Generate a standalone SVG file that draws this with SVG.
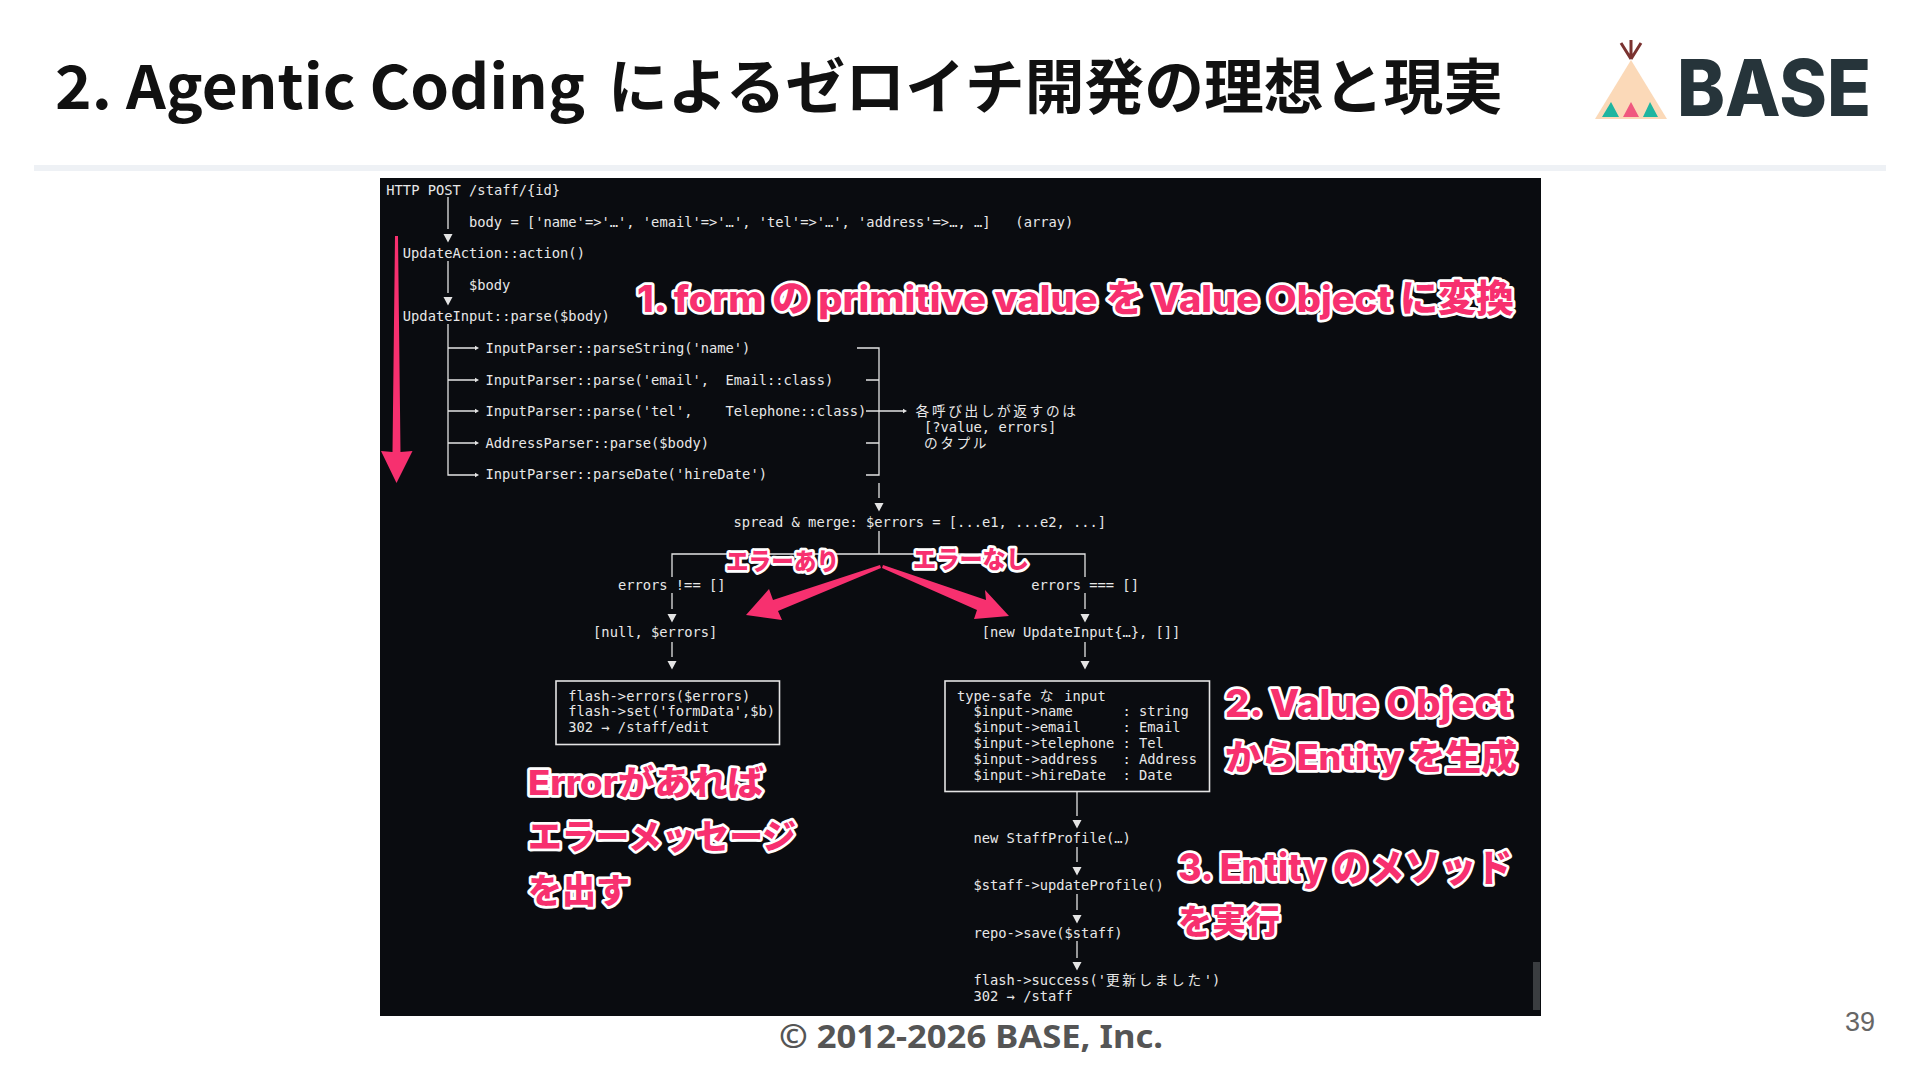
<svg xmlns="http://www.w3.org/2000/svg" width="1920" height="1080" viewBox="0 0 1920 1080">
<style>
.m{font-family:"DejaVu Sans Mono","Noto Sans CJK JP",monospace;font-size:13.75px;fill:#e8e8e8;white-space:pre}
.j{letter-spacing:2.6px;font-size:13.7px}
.p{font-family:Inter,"Noto Sans CJK JP",sans-serif;font-weight:800;fill:#f7306f;stroke:#fff;stroke-width:5.5px;stroke-linejoin:round;paint-order:stroke;white-space:pre}
.t{font-family:"Noto Sans CJK JP","Noto Sans",sans-serif;font-weight:700;font-size:60px;fill:#111}
.l{fill:none;stroke:#e4e4e4;stroke-width:1.3}
.b{fill:none;stroke:#e4e4e4;stroke-width:1.6}
.h{fill:#e4e4e4}
.a{fill:#f7306f}
</style>
<defs>
<polygon id="ah" class="h" points="-4.5,0 4.5,0 0,8.5"/>
<polygon id="sh" class="h" points="0,-2.2 4,0 0,2.2"/>
</defs>
<rect width="1920" height="1080" fill="#fff"/>
<g id="header">
<text class="t" x="55" y="109" textLength="530" lengthAdjust="spacingAndGlyphs">2. Agentic Coding</text>
<text class="t" x="608" y="109" textLength="895" lengthAdjust="spacingAndGlyphs">によるゼロイチ開発の理想と現実</text>
<rect x="34" y="165" width="1852" height="6" fill="#eef1f5"/>
</g>
<g id="logo">
<polygon points="1631,60 1595,119 1667,119" fill="#fbd9b8"/>
<polygon points="1611,102 1619,117 1602,117" fill="#1fb5a0"/>
<polygon points="1631,102 1639,117 1623,117" fill="#f0587f"/>
<polygon points="1650,102 1658,117 1643,117" fill="#1fb5a0"/>
<path d="M1631,59 L1621,43 M1631,59 L1641,43 M1631,59 L1631,40" stroke="#7a3230" stroke-width="3" fill="none"/>
<text x="1677" y="116" font-family="Inter,'Liberation Sans',sans-serif" font-weight="800" font-size="78" fill="#26343a" textLength="194" lengthAdjust="spacingAndGlyphs">BASE</text>
</g>
<rect id="terminal" x="380" y="178" width="1161" height="838" fill="#0a0c10"/>
<rect id="scrollbar" x="1533" y="962" width="7" height="48" fill="#3a3d40"/>
<g id="connectors">
<path class="l" d="M448,197V229M448,261V293M448,324V475H475M448,348H475M448,380H475M448,411H475M448,443H475"/>
<use href="#ah" x="448" y="234"/><use href="#ah" x="448" y="297"/>
<use href="#sh" x="475" y="348"/><use href="#sh" x="475" y="380"/><use href="#sh" x="475" y="411"/><use href="#sh" x="475" y="443"/><use href="#sh" x="475" y="475"/>
<path class="l" d="M857,348H879V475H866M866,380H879M866,443H879M866,411H903M879,483V498"/>
<use href="#sh" x="903" y="411"/><use href="#ah" x="879" y="503"/>
<path class="l" d="M879,531V554M672,577V554H1085V577M672,593V609M672,642V657M1085,593V609M1085,642V657"/>
<use href="#ah" x="672" y="614"/><use href="#ah" x="672" y="661"/><use href="#ah" x="1085" y="614"/><use href="#ah" x="1085" y="661"/>
<path class="l" d="M1077,792V816M1077,847V862M1077,894V910M1077,941V958"/>
<use href="#ah" x="1077" y="820"/><use href="#ah" x="1077" y="867"/><use href="#ah" x="1077" y="915"/><use href="#ah" x="1077" y="962"/>
</g>
<g id="http-flow">
<text class="m" x="386.3" y="195">HTTP POST /staff/{id}</text>
<text class="m" x="469" y="226.5">body = ['name'=>'…', 'email'=>'…', 'tel'=>'…', 'address'=>…, …]   (array)</text>
<text class="m" x="402.8" y="258.2">UpdateAction::action()</text>
<text class="m" x="469" y="289.8">$body</text>
<text class="m" x="402.8" y="321.4">UpdateInput::parse($body)</text>
</g>
<g id="parsers">
<text class="m" x="485.5" y="353">InputParser::parseString('name')</text>
<text class="m" x="485.5" y="384.6">InputParser::parse('email',  Email::class)</text>
<text class="m" x="485.5" y="416.2">InputParser::parse('tel',    Telephone::class)</text>
<text class="m" x="485.5" y="447.8">AddressParser::parse($body)</text>
<text class="m" x="485.5" y="479.4">InputParser::parseDate('hireDate')</text>
</g>
<g id="tuple-note">
<text class="m" x="915.6" y="416.2"><tspan class="j">各呼び出しが返すのは</tspan></text>
<text class="m" x="923.9" y="432">[?value, errors]</text>
<text class="m" x="923.9" y="447.8"><tspan class="j">のタプル</tspan></text>
</g>
<g id="merge"><text class="m" x="733.6" y="526.8">spread &amp; merge: $errors = [...e1, ...e2, ...]</text></g>
<g id="branch-error">
<text class="m" x="617.9" y="590">errors !== []</text>
<text class="m" x="593.1" y="637.4">[null, $errors]</text>
</g>
<g id="branch-ok">
<text class="m" x="1031.3" y="590">errors === []</text>
<text class="m" x="981.7" y="637.4">[new UpdateInput{…}, []]</text>
</g>
<g id="error-box">
<rect class="b" x="556" y="681" width="223.5" height="63.5"/>
<text class="m" x="568.2" y="700.6">flash->errors($errors)</text>
<text class="m" x="568.2" y="716.4">flash->set('formData',$b)</text>
<text class="m" x="568.2" y="732.2">302 → /staff/edit</text>
</g>
<g id="input-box">
<rect class="b" x="945" y="681" width="264.5" height="110.5"/>
<text class="m" x="956.9" y="700.6">type-safe <tspan class="j">な</tspan> input</text>
<text class="m" x="973.5" y="716.4">$input->name      : string</text>
<text class="m" x="973.5" y="732.2">$input->email     : Email</text>
<text class="m" x="973.5" y="748">$input->telephone : Tel</text>
<text class="m" x="973.5" y="763.8">$input->address   : Address</text>
<text class="m" x="973.5" y="779.6">$input->hireDate  : Date</text>
</g>
<g id="entity-flow">
<text class="m" x="973.5" y="842.8">new StaffProfile(…)</text>
<text class="m" x="973.5" y="890.2">$staff->updateProfile()</text>
<text class="m" x="973.5" y="937.6">repo->save($staff)</text>
<text class="m" x="973.5" y="985">flash->success('<tspan class="j">更新しました</tspan>')</text>
<text class="m" x="973.5" y="1000.8">302 → /staff</text>
</g>
<g id="annotation-arrows">
<polygon class="a" points="395,236 398,236 400.5,452 412.5,451 396.5,483 381,451 392.5,452"/>
<polygon class="a" points="880,565 881,568 778,611 782,620 746,615 769,589 773,600"/>
<polygon class="a" points="882,568 883,565 986,600 985,590 1009,616 974,619 977,610"/>
</g>
<g id="annotations">
<text class="p" x="637" y="312" font-size="37" textLength="877" lengthAdjust="spacingAndGlyphs">1. form の primitive value を Value Object に変換</text>
<text class="p" x="726" y="570" font-size="24" textLength="113" lengthAdjust="spacingAndGlyphs">エラーあり</text>
<text class="p" x="913" y="568" font-size="24" textLength="116" lengthAdjust="spacingAndGlyphs">エラーなし</text>
<text class="p" x="528" y="795" font-size="34" textLength="236" lengthAdjust="spacingAndGlyphs">Errorがあれば</text>
<text class="p" x="528" y="849" font-size="34" textLength="268" lengthAdjust="spacingAndGlyphs">エラーメッセージ</text>
<text class="p" x="528" y="903" font-size="34" textLength="102" lengthAdjust="spacingAndGlyphs">を出す</text>
<text class="p" x="1225" y="717" font-size="38" textLength="287" lengthAdjust="spacingAndGlyphs">2. Value Object</text>
<text class="p" x="1225" y="770" font-size="35" textLength="292" lengthAdjust="spacingAndGlyphs">からEntity を生成</text>
<text class="p" x="1178" y="881" font-size="38" textLength="334" lengthAdjust="spacingAndGlyphs">3. Entity のメソッド</text>
<text class="p" x="1178" y="934" font-size="34" textLength="102" lengthAdjust="spacingAndGlyphs">を実行</text>
</g>
<g id="footer">
<text x="971" y="1048" text-anchor="middle" font-family="'Noto Sans',sans-serif" font-weight="700" font-size="32" fill="#555" textLength="384" lengthAdjust="spacingAndGlyphs">© 2012-2026 BASE, Inc.</text>
<text x="1860" y="1031" text-anchor="middle" font-family="'Liberation Sans',sans-serif" font-size="27" fill="#666">39</text>
</g>
</svg>
